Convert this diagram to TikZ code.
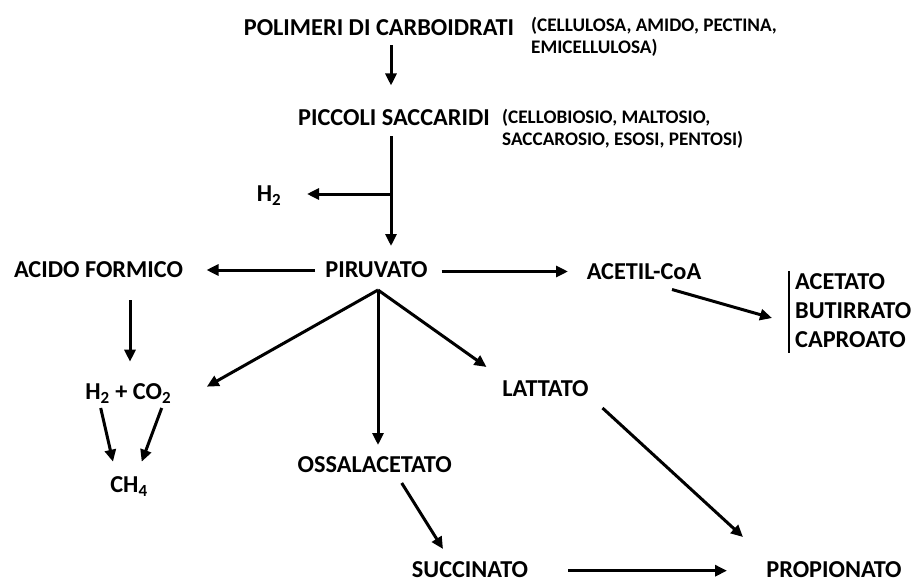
\documentclass[tikz,border=0pt]{standalone}
\usepackage{fontspec}
\setmainfont{Carlito}
\usetikzlibrary{
  arrows.meta,
  positioning,
  calc
}

\begin{document}
\begin{tikzpicture}[
      x=1pt, y=-1pt,
      term/.style={
        inner sep=0pt, text height=15.5pt, text depth=0pt,
        font=\fontsize{24.3}{29}\selectfont\bfseries
      },
      note/.style={
        inner sep=0pt, anchor=west, align=left,
        font=\fontsize{19.2}{22.5}\selectfont\bfseries
      },
      prodlist/.style={
        inner sep=0pt, anchor=west, align=left,
        font=\fontsize{24.3}{29}\selectfont\bfseries
      },
      arrow/.style={-{Triangle[length=12pt, width=11pt]}, line width=3pt},
      bar/.style={line width=1.4pt}
    ]
      \useasboundingbox (0,0) rectangle (912,580);

      % substrates
      \node[term] (pol) at (379,27.5) {POLIMERI DI CARBOIDRATI};
      \node[note] (pol-note) at (531,37) {(CELLULOSA, AMIDO, PECTINA,\\EMICELLULOSA)};
      \node[term] (pic) at (394,117.5) {PICCOLI SACCARIDI};
      \node[note] (pic-note) at (502,129) {(CELLOBIOSIO, MALTOSIO,\\SACCAROSIO, ESOSI, PENTOSI)};
      \node[term] (h2) at (269,194) {H\textsubscript{2}};

      % pyruvate and products
      \node[term] (piru) at (376.5,270) {PIRUVATO};
      \node[term] (acido) at (98.5,270) {ACIDO FORMICO};
      \node[term] (acetil) at (644,271.5) {ACETIL-CoA};
      \node[prodlist] (prod) at (795,311) {ACETATO\\BUTIRRATO\\CAPROATO};
      \node[term] (h2co2) at (128.3,391.7) {H\textsubscript{2} + CO\textsubscript{2}};
      \node[term] (ch4) at (129,485) {CH\textsubscript{4}};
      \node[term] (latt) at (545.5,389) {LATTATO};
      \node[term] (ossa) at (374.7,465) {OSSALACETATO};
      \node[term] (succ) at (470,570) {SUCCINATO};
      \node[term] (prop) at (834,570) {PROPIONATO};

      \coordinate (jn) at ($(pic)+(-3,76.5)$);
      \coordinate (fork) at ($(piru)+(1.5,20)$);

      \draw[arrow] ($(pol)+(12,18)$) -- ($(pic)+(-3,-32)$);
      \draw[arrow] ($(pic)+(-3,19)$) -- ($(piru)+(14.5,-24)$);
      \draw[arrow] (jn) -- ($(h2)+(38,0)$);

      \draw[arrow] ($(piru)+(-61.5,0)$) -- ($(acido)+(108,0)$);
      \draw[arrow] ($(piru)+(65,1.5)$) -- ($(acetil)+(-76,0)$);
      \draw[arrow] ($(acetil)+(28,18)$) -- ($(prod.west)+(-23,7)$);
      \draw[bar] ($(prod.west)+(-6,-40)$) -- ($(prod.west)+(-6,42)$);

      \draw[arrow] (fork) -- ($(h2co2)+(78.5,-5)$);
      \draw[arrow] (fork) -- ($(fork |- ossa)+(0,-20)$);
      \draw[arrow] (fork) -- ($(latt)+(-59,-22)$);

      \draw[arrow] ($(acido)+(31.5,30)$) -- ($(h2co2)+(1.7,-30)$);
      \draw[arrow] ($(h2co2)+(-27.6,16.3)$) -- ($(ch4)+(-16,-23.3)$);
      \draw[arrow] ($(h2co2)+(33.4,16.3)$) -- ($(ch4)+(12.7,-23.3)$);

      \draw[arrow] ($(latt)+(57,19)$) -- ($(prop)+(-91,-33)$);
      \draw[arrow] ($(ossa)+(27,18)$) -- ($(succ)+(-27,-21)$);
      \draw[arrow] ($(succ)+(98,0.7)$) -- ($(prop)+(-107,0.7)$);
    \end{tikzpicture}
\end{document}
